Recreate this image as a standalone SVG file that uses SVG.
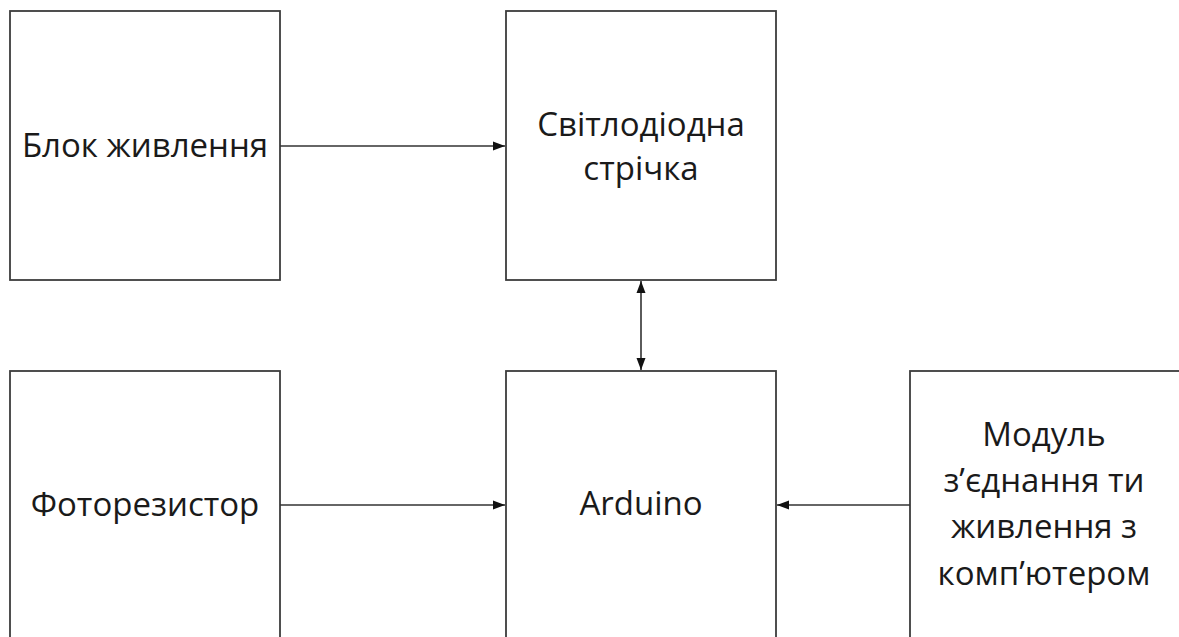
<svg xmlns="http://www.w3.org/2000/svg" width="1179" height="637" viewBox="0 0 1179 637">
<style>
.box{fill:#fff;stroke:#3c3c3c;stroke-width:1.8}
.lbl{font-family:"Open Sans","Noto Sans",sans-serif;font-size:33px;fill:#1a1a1a;text-anchor:middle}
.con{stroke:#333;stroke-width:1.6;fill:none}
</style>
<defs>
<marker id="ah" viewBox="0 0 12 10" refX="12" refY="5" markerWidth="12" markerHeight="10" markerUnits="userSpaceOnUse" orient="auto-start-reverse">
<path d="M0,0.5 L12,5 L0,9.5 Z" fill="#111"/>
</marker>
</defs>
<rect width="1179" height="637" fill="#fff"/>
<g id="node-power">
<rect class="box" x="10" y="11" width="270" height="269"/>
<text class="lbl" x="145" y="157">Блок живлення</text>
</g>
<g id="node-ledstrip">
<rect class="box" x="506" y="11" width="270" height="269"/>
<text class="lbl" x="641" y="136">Світлодіодна</text>
<text class="lbl" x="641" y="180">стрічка</text>
</g>
<g id="node-photoresistor">
<rect class="box" x="10" y="371" width="270" height="280"/>
<text class="lbl" x="145" y="516">Фоторезистор</text>
</g>
<g id="node-arduino">
<rect class="box" x="506" y="371" width="270" height="280"/>
<text class="lbl" x="641" y="515">Arduino</text>
</g>
<g id="node-module">
<rect class="box" x="910" y="371" width="280" height="280"/>
<text class="lbl" x="1044" y="446">Модуль</text>
<text class="lbl" x="1044" y="492">з’єднання ти</text>
<text class="lbl" x="1044" y="538">живлення з</text>
<text class="lbl" x="1044" y="585">комп’ютером</text>
</g>
<g id="connectors">
<line class="con" x1="280" y1="146" x2="505" y2="146" marker-end="url(#ah)"/>
<line class="con" x1="641" y1="281" x2="641" y2="370" marker-start="url(#ah)" marker-end="url(#ah)"/>
<line class="con" x1="280" y1="505" x2="505" y2="505" marker-end="url(#ah)"/>
<line class="con" x1="910" y1="505" x2="777" y2="505" marker-end="url(#ah)"/>
</g>
</svg>
